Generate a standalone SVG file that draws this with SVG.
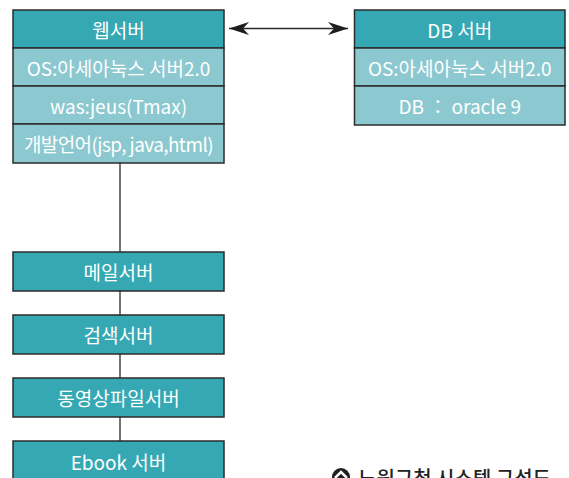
<svg xmlns="http://www.w3.org/2000/svg" width="569" height="478" viewBox="0 0 569 478">
  <style>
    .head { fill: #35a8b3; stroke: #2b2b2b; stroke-width: 1.5; }
    .row { fill: #8cc8cf; stroke: #2b2b2b; stroke-width: 1.5; }
    .lbl { fill: #ffffff; font-family: "Noto Sans CJK KR", "Noto Sans", sans-serif; font-size: 19px; text-anchor: middle; dominant-baseline: central; }
    .wire { stroke: #2b2b2b; stroke-width: 1.3; fill: none; }
    .cap { fill: #222222; font-family: "Noto Sans CJK KR", "Noto Sans", sans-serif; font-size: 20px; font-weight: 500; }
  </style>
  <defs>
    <marker id="arr" viewBox="0 0 20 13" refX="20" refY="6.5" markerWidth="20" markerHeight="13" markerUnits="userSpaceOnUse" orient="auto-start-reverse">
      <path d="M0,0 L20,6.5 L0,13 L6,6.5 Z" fill="#1e1e1e"/>
    </marker>
  </defs>

  <rect width="569" height="478" fill="#ffffff"/>

  <!-- connectors -->
  <g id="connectors">
    <line class="wire" x1="229" y1="28.5" x2="348" y2="28.5" marker-start="url(#arr)" marker-end="url(#arr)" stroke="#555"/>
    <line class="wire" x1="120" y1="163" x2="120" y2="252"/>
    <line class="wire" x1="120" y1="291" x2="120" y2="315"/>
    <line class="wire" x1="120" y1="354" x2="120" y2="378"/>
    <line class="wire" x1="120" y1="417" x2="120" y2="441"/>
  </g>

  <!-- web server -->
  <g id="web-server">
    <rect class="head" x="13" y="10" width="211" height="38"/>
    <rect class="row" x="13" y="48" width="211" height="38"/>
    <rect class="row" x="13" y="86" width="211" height="38"/>
    <rect class="row" x="13" y="124" width="211" height="39"/>
    <text class="lbl" x="118.5" y="29">웹서버</text>
    <text class="lbl" x="118.5" y="67">OS:아세아눅스 서버2.0</text>
    <text class="lbl" x="118.5" y="105">was:jeus(Tmax)</text>
    <text class="lbl" x="118.5" y="143" letter-spacing="-0.6">개발언어(jsp, java,html)</text>
  </g>

  <!-- db server -->
  <g id="db-server">
    <rect class="head" x="354.5" y="10" width="210.5" height="38"/>
    <rect class="row" x="354.5" y="48" width="210.5" height="38"/>
    <rect class="row" x="354.5" y="86" width="210.5" height="39"/>
    <text class="lbl" x="459.75" y="29">DB 서버</text>
    <text class="lbl" x="459.75" y="67">OS:아세아눅스 서버2.0</text>
    <text class="lbl" x="459.75" y="105.5">DB ： oracle 9</text>
  </g>

  <g id="mail-server">
    <rect class="head" x="13" y="252" width="211" height="39"/>
    <text class="lbl" x="118.5" y="271.5">메일서버</text>
  </g>

  <g id="search-server">
    <rect class="head" x="13" y="315" width="211" height="39"/>
    <text class="lbl" x="118.5" y="334.5">검색서버</text>
  </g>

  <g id="video-server">
    <rect class="head" x="13" y="378" width="211" height="39"/>
    <text class="lbl" x="118.5" y="397.5">동영상파일서버</text>
  </g>

  <g id="ebook-server">
    <rect class="head" x="13" y="441" width="211" height="45"/>
    <text class="lbl" x="118.5" y="461">Ebook 서버</text>
  </g>

  <!-- caption -->
  <g id="caption">
    <circle cx="341" cy="477" r="9" fill="#1e1e1e"/>
    <path d="M335,478 L341,472 L347,478" stroke="#ffffff" stroke-width="2.5" fill="none"/>
    <text class="cap" x="358" y="486">노원구청 시스템 구성도</text>
  </g>
</svg>
